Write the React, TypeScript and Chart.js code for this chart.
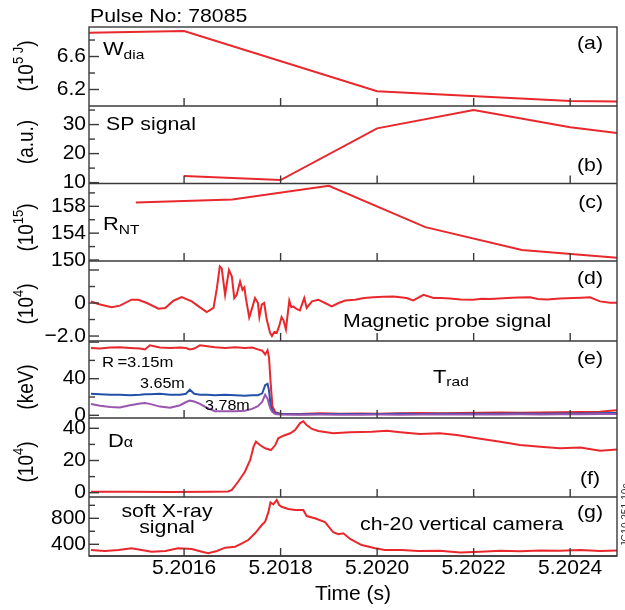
import React, { useEffect, useRef } from 'react';
import { Chart, registerables } from 'chart.js';

Chart.register(...registerables);

const FONT = "'Liberation Sans', Arial, Helvetica, sans-serif";

// ---------- x axis ----------
const timeMin = 5.201403;
const timeMax = 5.202497;
const timeTicks = [5.2016, 5.2018, 5.202, 5.2022, 5.2024];

// ---------- (a) W_dia (10^5 J) ----------
const wdiaT = [5.2014, 5.2016, 5.202, 5.2024, 5.2025];
const wdiaV = [6.888, 6.908, 6.18, 6.06, 6.053];
const aTicks = [6.2, 6.4, 6.6, 6.8];
const aMajor = [6.2, 6.6];
const aLabels = ['6.2', '6.6'];

// ---------- (b) SP signal (a.u.) ----------
const spT = [5.2016, 5.2018, 5.202, 5.2022, 5.2024, 5.2025];
const spV = [12.25, 10.9, 28.7, 35.0, 29.1, 27.0];
const bTicks = [10, 15, 20, 25, 30, 35];
const bMajor = [10, 20, 30];
const bLabels = ['10', '20', '30'];

// ---------- (c) R_NT (10^15) ----------
const rntT = [5.2015, 5.2017, 5.2019, 5.2021, 5.2023, 5.2025];
const rntV = [158.55, 159.0, 161.06, 154.9, 151.5, 150.3];
const cTicks = [150, 152, 154, 156, 158, 160];
const cMajor = [150, 154, 158];
const cLabels = ['150', '154', '158'];

// ---------- (d) Magnetic probe signal (10^4) ----------
const magT = [
  5.201407, 5.201422, 5.20145, 5.201467, 5.201491, 5.201505, 5.201523, 5.201547, 5.201561, 5.201578,
  5.201595, 5.201616, 5.201633, 5.201647, 5.201661, 5.201668, 5.201674, 5.201678, 5.201685, 5.201693,
  5.201699, 5.201704, 5.201709, 5.201716, 5.201721, 5.201725, 5.201728, 5.201735, 5.20174, 5.201747,
  5.201753, 5.201756, 5.201761, 5.201766, 5.201771, 5.201778, 5.201782, 5.201787, 5.201792, 5.201797,
  5.201802, 5.201806, 5.201811, 5.201818, 5.201822, 5.201826, 5.201833, 5.20184, 5.201849, 5.201854,
  5.201865, 5.201878, 5.201892, 5.201906, 5.20192, 5.201934, 5.201954, 5.201973, 5.201992, 5.202013,
  5.202034, 5.202061, 5.202075, 5.202096, 5.202117, 5.202133, 5.202151, 5.202173, 5.202199, 5.202217,
  5.202234, 5.202253, 5.202269, 5.202293, 5.202317, 5.202333, 5.202352, 5.202379, 5.202407, 5.202423,
  5.202441, 5.202462, 5.202483, 5.202497,
];
const magV = [
  0.1, -0.06, -0.26, -0.16, 0.2, 0.2, 0.0, -0.34, -0.3, 0.14,
  0.36, 0.1, -0.26, -0.55, -0.3, 0.9, 2.22, 2.1, 0.5, 2.0,
  1.6, 0.3, 0.5, 1.3, 0.8, 0.95, 0.3, -0.87, -0.4, 0.3,
  0.0, -0.85, -0.1, 0.0, -0.95, -1.8, -2.0, -1.75, -1.8, -1.4,
  -0.85, -1.05, -1.6, 0.14, -0.25, -0.2, -0.35, -0.45, 0.3, -0.3,
  0.1, 0.2, 0.0, -0.2, 0.0, 0.15, 0.2, 0.3, 0.35, 0.38,
  0.4, 0.3, 0.16, 0.5, 0.3, 0.3, 0.27, 0.22, 0.2, 0.26,
  0.24, 0.28, 0.3, 0.33, 0.35, 0.25, 0.22, 0.27, 0.3, 0.32,
  0.35, 0.1, 0.02, 0.02,
];
const dTicks = [-2, -1, 0, 1, 2];
const dMajor = [-2, 0, 2];
const dLabels = ['\u22122.0', '0', ''];

// ---------- (e) T_rad (keV) ----------
const tradT = [
  5.201407, 5.201426, 5.201447, 5.201467, 5.201488, 5.201509, 5.201519, 5.201529, 5.20155, 5.201571,
  5.201592, 5.201604, 5.201612, 5.201621, 5.201633, 5.201648, 5.201664, 5.201685, 5.201706, 5.201726,
  5.201741, 5.201753, 5.201762, 5.201768, 5.201773, 5.201776, 5.201779, 5.201783, 5.201789, 5.201799,
  5.20184, 5.201882, 5.201923, 5.201965, 5.202006, 5.202048, 5.202089, 5.20213, 5.202172, 5.202213,
  5.202255, 5.202296, 5.202338, 5.202379, 5.202421, 5.202462, 5.202483, 5.202497,
];
const trad315 = [
  73.6, 73, 74, 74.3, 73.6, 73, 72, 76.5, 74, 73.6,
  74, 73.6, 72, 73, 76.5, 75.5, 74.3, 73.6, 74.3, 73.6,
  74, 72, 70.6, 66.5, 71, 63, 38, 10, 3.5, 1.8,
  1.5, 2.2, 1.8, 2, 1.8, 2.2, 2.5, 2.2, 2.5, 2.8,
  3, 2.8, 3, 3.2, 3.5, 4, 5, 5.5,
];
const trad365 = [
  23.5, 23, 22.5, 22.5, 22, 22.5, 23, 23, 23.5, 22.5,
  22.5, 23.5, 28, 23.5, 22.5, 22.5, 22, 22.5, 22, 21.5,
  22, 22, 24, 33, 34.5, 27, 12, 5, 2.5, 1.5,
  1.2, 1.5, 1.3, 1.5, 1.4, 1.6, 1.5, 1.7, 1.6, 1.8,
  1.7, 1.9, 1.8, 2, 2, 2.2, 2.4, 2.5,
];
const trad378 = [
  12.4, 10.5, 9, 8.5, 11, 13, 13.4, 12.5, 9.5, 8.2,
  11, 14.5, 16, 15, 12.5, 8, 4.5, 4.5, 4.5, 5,
  7, 10, 15, 22.5, 18, 12, 7, 3.5, 1.5, 0.8,
  0.6, 0.8, 0.6, 0.7, 0.8, 0.7, 0.9, 0.8, 0.9, 1.0,
  0.9, 1.1, 1.0, 1.1, 1.2, 1.3, 1.4, 1.5,
];
const eTicks = [0, 20, 40, 60, 80];
const eMajor = [0, 40, 80];
const eLabels = ['0', '40', ''];

// ---------- (f) D_alpha (10^4) ----------
const daT = [
  5.201407, 5.201488, 5.201571, 5.201654, 5.201691, 5.201699, 5.201712, 5.201726, 5.201737, 5.201744,
  5.201749, 5.201757, 5.201768, 5.20178, 5.201789, 5.201795, 5.201806, 5.20182, 5.20183, 5.20184,
  5.201847, 5.201854, 5.201865, 5.201878, 5.201909, 5.201944, 5.201989, 5.20202, 5.202048, 5.202089,
  5.20213, 5.202165, 5.202207, 5.202255, 5.202296, 5.202338, 5.202379, 5.202421, 5.202462, 5.202497,
];
const daV = [
  0.6, 0.6, 0.5, 0.6, 0.8, 1.8, 6.8, 13, 20.3, 28.6,
  31.7, 29.6, 27.6, 26.5, 29.6, 33.8, 35.4, 36.9, 38.9, 43.1,
  44.3, 42, 39.6, 38.3, 36.9, 37.6, 37.9, 38.5, 37.6, 36.4,
  36.9, 35.8, 33.8, 31.7, 29.6, 28.6, 27.6, 28, 26.1, 26.9,
];
const fTicks = [0, 10, 20, 30, 40];
const fMajor = [0, 20, 40];
const fLabels = ['0', '20', '40'];

// ---------- (g) soft X-ray ----------
const sxrT = [
  5.201407, 5.201436, 5.201464, 5.201491, 5.201512, 5.201533, 5.201561, 5.201588, 5.201616, 5.201637,
  5.20165, 5.201668, 5.201685, 5.201706, 5.20172, 5.201733, 5.201747, 5.201761, 5.201768, 5.201775,
  5.201779, 5.201785, 5.201792, 5.201797, 5.201802, 5.201816, 5.20183, 5.201847, 5.201854, 5.201871,
  5.201892, 5.201909, 5.20192, 5.20193, 5.201944, 5.201968, 5.201996, 5.202016, 5.202051, 5.202085,
  5.20213, 5.202172, 5.202213, 5.202255, 5.202296, 5.202338, 5.202379, 5.202421, 5.202462, 5.202497,
];
const sxrV = [
  312, 297, 312, 338, 312, 286, 297, 338, 328, 286,
  262, 297, 348, 363, 415, 466, 569, 697, 748, 902,
  1046, 1015, 1082, 1005, 978, 943, 928, 928, 835, 800,
  743, 585, 554, 569, 482, 389, 338, 312, 312, 297,
  300, 275, 285, 300, 295, 305, 300, 312, 298, 305,
];
const gTicks = [400, 600, 800, 1000];
const gMajor = [400, 800];
const gLabels = ['400', '800'];

// ---------- layout / style ----------
const RED = '#e8282c';
const BLUE = '#2350a8';
const PURPLE = '#9a55ae';
const FRAME = '#3a3a3a';
const SX = 1.15; // horizontal stretch of annotation text, as in the source figure

type Seg = { t: string; size: number; dy?: number };

const panels = [
  { id: 'ya', min: 6.0, max: 6.958, h: 79, ticks: aTicks, major: aMajor, labels: aLabels,
    title: [{ t: '(10', size: 19 }, { t: '5 J', size: 13, dy: -7 }, { t: ')', size: 19 }], titleDy: 39 },
  { id: 'yb', min: 9.7, max: 36.4, h: 77.5, ticks: bTicks, major: bMajor, labels: bLabels,
    title: [{ t: '(a.u.)', size: 19 }], titleDy: 36 },
  { id: 'yc', min: 149.85, max: 161.4, h: 77.5, ticks: cTicks, major: cMajor, labels: cLabels,
    title: [{ t: '(10', size: 19 }, { t: '15', size: 13, dy: -7 }, { t: ')', size: 19 }], titleDy: 44 },
  { id: 'yd', min: -2.3, max: 2.545, h: 80, ticks: dTicks, major: dMajor, labels: dLabels,
    title: [{ t: '(10', size: 19 }, { t: '4', size: 13, dy: -7 }, { t: ')', size: 19 }], titleDy: 43 },
  { id: 'ye', min: -2.95, max: 81.2, h: 77, ticks: eTicks, major: eMajor, labels: eLabels,
    title: [{ t: '(keV)', size: 19 }], titleDy: 46 },
  { id: 'yf', min: -2.67, max: 46.4, h: 79, ticks: fTicks, major: fMajor, labels: fLabels,
    title: [{ t: '(10', size: 19 }, { t: '4', size: 13, dy: -7 }, { t: ')', size: 19 }], titleDy: 44 },
  { id: 'yg', min: 220, max: 1128, h: 59, ticks: gTicks, major: gMajor, labels: gLabels,
    title: null as Seg[] | null, titleDy: 0 },
];

type Note = { panel: string; segs: Seg[]; dx: number; dy: number; align: 'left' | 'right' | 'center'; fromRight?: boolean };

const notes: Note[] = [
  { panel: 'ya', segs: [{ t: 'W', size: 19 }, { t: 'dia', size: 13.5, dy: 4 }], dx: 14, dy: 28, align: 'left' },
  { panel: 'ya', segs: [{ t: '(a)', size: 18.5 }], dx: 14, dy: 22, align: 'right', fromRight: true },
  { panel: 'yb', segs: [{ t: 'SP signal', size: 18.5 }], dx: 17, dy: 24, align: 'left' },
  { panel: 'yb', segs: [{ t: '(b)', size: 18.5 }], dx: 14, dy: 65, align: 'right', fromRight: true },
  { panel: 'yc', segs: [{ t: 'R', size: 19 }, { t: 'NT', size: 13.5, dy: 4 }], dx: 14, dy: 46.5, align: 'left' },
  { panel: 'yc', segs: [{ t: '(c)', size: 18.5 }], dx: 14, dy: 24.5, align: 'right', fromRight: true },
  { panel: 'yd', segs: [{ t: '(d)', size: 18.5 }], dx: 14, dy: 23, align: 'right', fromRight: true },
  { panel: 'yd', segs: [{ t: 'Magnetic probe signal', size: 18.5 }], dx: 254, dy: 66, align: 'left' },
  { panel: 'ye', segs: [{ t: '(e)', size: 18.5 }], dx: 14, dy: 23, align: 'right', fromRight: true },
  { panel: 'ye', segs: [{ t: 'T', size: 19 }, { t: 'rad', size: 13.5, dy: 3 }], dx: 344, dy: 42, align: 'left' },
  { panel: 'ye', segs: [{ t: 'R\u2009=3.15m', size: 14.5 }], dx: 13, dy: 26, align: 'left' },
  { panel: 'ye', segs: [{ t: '3.65m', size: 14 }], dx: 51, dy: 47, align: 'left' },
  { panel: 'ye', segs: [{ t: '3.78m', size: 14 }], dx: 116, dy: 69, align: 'left' },
  { panel: 'yf', segs: [{ t: 'D', size: 19 }, { t: '\u03b1', size: 14, dy: 0 }], dx: 19, dy: 29, align: 'left' },
  { panel: 'yf', segs: [{ t: '(f)', size: 18.5 }], dx: 17, dy: 66, align: 'right', fromRight: true },
  { panel: 'yg', segs: [{ t: 'soft X-ray', size: 18.5 }], dx: 78, dy: 20, align: 'center' },
  { panel: 'yg', segs: [{ t: 'signal', size: 18.5 }], dx: 78, dy: 36, align: 'center' },
  { panel: 'yg', segs: [{ t: 'ch-20 vertical camera', size: 18.5 }], dx: 271, dy: 33, align: 'left' },
  { panel: 'yg', segs: [{ t: '(g)', size: 18.5 }], dx: 14, dy: 21, align: 'right', fromRight: true },
];

function drawRich(
  ctx: CanvasRenderingContext2D,
  segs: Seg[],
  x: number,
  y: number,
  align: string,
  rotate = false,
  baseline: CanvasTextBaseline = 'alphabetic',
) {
  ctx.save();
  ctx.translate(x, y);
  ctx.scale(SX, 1);
  if (rotate) ctx.rotate(-Math.PI / 2);
  ctx.textBaseline = baseline;
  ctx.textAlign = 'left';
  let total = 0;
  const widths = segs.map((s) => {
    ctx.font = `${s.size}px ${FONT}`;
    const w = ctx.measureText(s.t).width;
    total += w;
    return w;
  });
  let cx = align === 'left' ? 0 : align === 'right' ? -total : -total / 2;
  segs.forEach((s, i) => {
    ctx.font = `${s.size}px ${FONT}`;
    ctx.fillText(s.t, cx, s.dy || 0);
    cx += widths[i];
  });
  ctx.restore();
}

const panelPlugin = {
  id: 'panelDecor',
  afterDraw(chart: any) {
    const ctx: CanvasRenderingContext2D = chart.ctx;
    const area = chart.chartArea;
    const xs = chart.scales.x;
    ctx.save();
    ctx.strokeStyle = FRAME;
    ctx.lineWidth = 1.4;
    const line = (x1: number, y1: number, x2: number, y2: number) => {
      ctx.beginPath();
      ctx.moveTo(x1, y1);
      ctx.lineTo(x2, y2);
      ctx.stroke();
    };
    ctx.strokeRect(area.left, area.top, area.right - area.left, area.bottom - area.top);
    ctx.fillStyle = '#000';
    for (const p of panels) {
      const s = chart.scales[p.id];
      line(area.left, s.bottom, area.right, s.bottom);
      for (const t of timeTicks) {
        const px = xs.getPixelForValue(t);
        line(px, s.bottom, px, s.bottom - 8);
      }
      for (const v of p.ticks) {
        const py = s.getPixelForValue(v);
        const len = p.major.includes(v) ? 10 : 6;
        line(area.left, py, area.left + len, py);
      }
      if (p.title) {
        drawRich(ctx, p.title, 27, s.top + p.titleDy, 'center', true, 'middle');
      }
    }
    drawRich(ctx, [{ t: 'Pulse No: 78085', size: 18.5 }], area.left + 1, area.top - 5.5, 'left');
    for (const n of notes) {
      const s = chart.scales[n.panel];
      const x = n.fromRight ? area.right - n.dx : area.left + n.dx;
      drawRich(ctx, n.segs, x, s.top + n.dy, n.align);
    }
    // figure id, clipped at the right edge
    ctx.fillStyle = '#333';
    drawRich(ctx, [{ t: 'JG10.251-10c', size: 10 }], 629, 515, 'center', true);
    ctx.restore();
  },
};

function series(ts: number[], vs: number[]) {
  return ts.map((t, i) => ({ x: t, y: vs[i] }));
}

function ds(yAxisID: string, ts: number[], vs: number[], color: string) {
  return {
    data: series(ts, vs),
    yAxisID,
    xAxisID: 'x',
    borderColor: color,
    backgroundColor: color,
    borderWidth: 2,
    pointRadius: 0,
    fill: false,
    tension: 0,
  };
}

export default function App() {
  const ref = useRef<HTMLCanvasElement>(null);
  useEffect(() => {
    if (!ref.current) return;
    const scales: any = {
      x: {
        type: 'linear',
        position: 'bottom',
        min: timeMin,
        max: timeMax,
        afterBuildTicks: (s: any) => {
          s.ticks = timeTicks.map((v) => ({ value: v }));
        },
        afterFit: (s: any) => {
          s.height = 54;
        },
        grid: { display: false, drawTicks: false },
        border: { display: false },
        ticks: {
          autoSkip: false,
          maxRotation: 0,
          padding: 0,
          color: '#000',
          font: { size: 21, family: FONT },
          callback: (v: any) => Number(v).toFixed(4),
        },
        title: {
          display: true,
          text: 'Time (s)',
          color: '#000',
          font: { size: 21, family: FONT },
          padding: { top: 0, bottom: 3 },
        },
      },
    };
    panels.forEach((p, idx) => {
      scales[p.id] = {
        type: 'linear',
        position: 'left',
        stack: 'panels',
        stackWeight: p.h,
        weight: panels.length - idx,
        min: p.min,
        max: p.max,
        afterBuildTicks: (s: any) => {
          s.ticks = p.ticks.map((v) => ({ value: v }));
        },
        afterFit: (s: any) => {
          s.width = 89;
        },
        grid: { display: false, drawTicks: false },
        border: { display: false },
        ticks: {
          autoSkip: false,
          padding: 3,
          color: '#000',
          font: { size: 21, family: FONT },
          callback: (v: any) => {
            const k = p.major.indexOf(v);
            return k >= 0 && k < p.labels.length ? p.labels[k] : '';
          },
        },
      };
    });
    const chart = new Chart(ref.current, {
      type: 'line',
      data: {
        datasets: [
          ds('ya', wdiaT, wdiaV, RED),
          ds('yb', spT, spV, RED),
          ds('yc', rntT, rntV, RED),
          ds('yd', magT, magV, RED),
          ds('ye', tradT, trad378, PURPLE),
          ds('ye', tradT, trad365, BLUE),
          ds('ye', tradT, trad315, RED),
          ds('yf', daT, daV, RED),
          ds('yg', sxrT, sxrV, RED),
        ] as any,
      },
      options: {
        responsive: false,
        animation: false,
        devicePixelRatio: 1,
        events: [],
        layout: { padding: { top: 27, right: 8, left: 0, bottom: 0 } },
        plugins: { legend: { display: false }, tooltip: { enabled: false } },
        scales,
      } as any,
      plugins: [panelPlugin],
    });
    return () => chart.destroy();
  }, []);
  return (
    <div style={{ position: 'absolute', left: 0, top: 0, width: 625, height: 610, background: '#fff' }}>
      <canvas ref={ref} width={625} height={610} style={{ display: 'block' }} />
    </div>
  );
}
